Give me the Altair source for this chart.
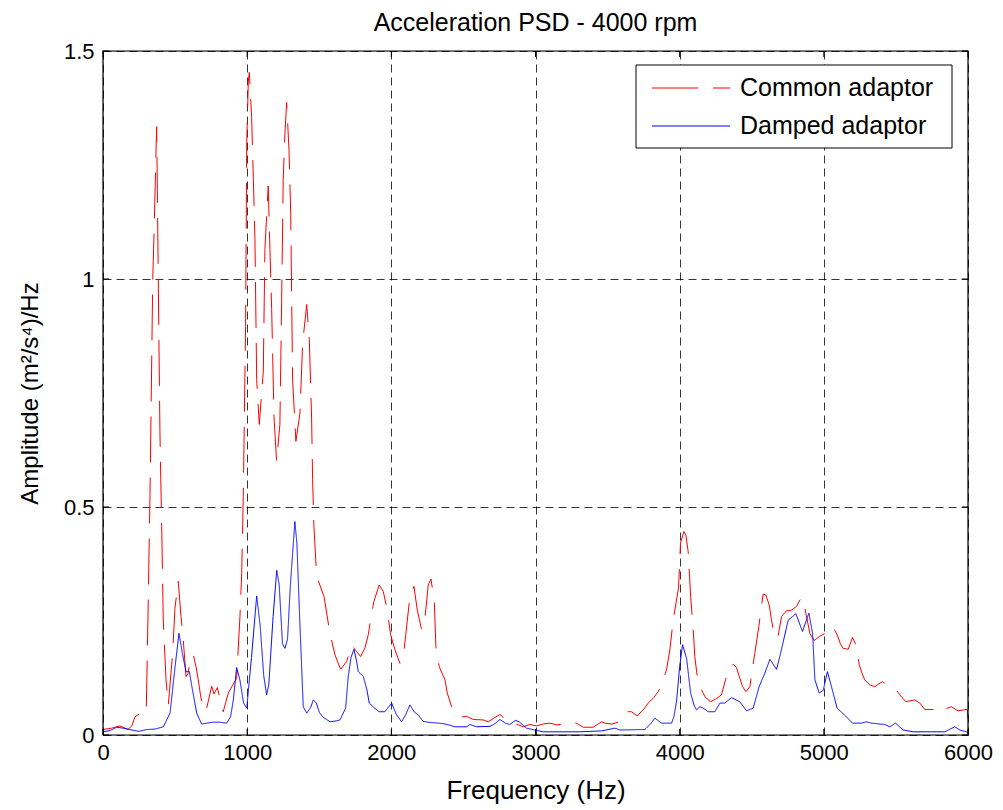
import altair as alt
import pandas as pd

# ---- data ----
common_freq = [0, 60, 118, 173, 200, 222, 260, 285, 300, 314, 326, 345, 354, 372, 377, 384, 395, 407,
               418, 437, 453, 483, 499, 522, 541, 553, 576, 590, 608, 626, 645, 661, 677, 700, 720,
               754, 770, 793, 815, 834, 850, 869, 900, 927, 950, 962, 973, 989, 997, 1008, 1015,
               1031, 1043, 1054, 1066, 1084, 1112, 1123, 1146, 1158, 1170, 1186, 1204, 1227, 1239,
               1250, 1262, 1274, 1290, 1302, 1315, 1338, 1366, 1385, 1413, 1431, 1447, 1454, 1463,
               1482, 1533, 1574, 1609, 1648, 1690, 1725, 1759, 1787, 1817, 1840, 1856, 1879, 1916,
               1944, 1972, 1995, 2025, 2060, 2083, 2101, 2129, 2157, 2180, 2210, 2233, 2256, 2275,
               2298, 2309, 2332, 2372, 2388, 2418, 2445, 2476, 2522, 2568, 2637, 2672, 2707, 2753,
               2790, 2822, 2868, 2915, 2961, 3007, 3053, 3099, 3150, 3200, 3250, 3290, 3331, 3400,
               3424, 3458, 3481, 3530, 3585, 3632, 3666, 3705, 3747, 3782, 3820, 3851, 3874, 3909,
               3932, 3955, 3978, 3992, 4006, 4029, 4043, 4059, 4076, 4094, 4105, 4128, 4152, 4175,
               4214, 4256, 4290, 4318, 4348, 4371, 4394, 4436, 4460, 4487, 4521, 4549, 4579, 4598,
               4621, 4635, 4660, 4683, 4707, 4740, 4776, 4811, 4834, 4849, 4868, 4903, 4933, 4968,
               5007, 5035, 5060, 5092, 5115, 5134, 5169, 5199, 5227, 5245, 5265, 5284, 5319, 5354,
               5380, 5407, 5450, 5499, 5535, 5569, 5631, 5666, 5700, 5770, 5816, 5850, 5885, 5931,
               5970, 5995, 6000]
common_amp = [0.012, 0.015, 0.020, 0.012, 0.020, 0.040, 0.048, 0.044, 0.050, 0.296, 0.527, 0.999,
              1.100, 1.334, 1.196, 0.980, 0.663, 0.457, 0.252, 0.121, 0.066, 0.179, 0.278, 0.337,
              0.260, 0.224, 0.128, 0.135, 0.171, 0.176, 0.150, 0.121, 0.086, 0.051, 0.060, 0.107,
              0.090, 0.104, 0.075, 0.051, 0.070, 0.092, 0.110, 0.124, 0.260, 0.355, 0.523, 0.896,
              1.299, 1.434, 1.453, 1.354, 1.218, 1.087, 0.779, 0.681, 0.798, 1.065, 1.204, 1.065,
              0.933, 0.699, 0.600, 0.681, 0.948, 1.218, 1.321, 1.387, 1.284, 1.145, 0.779, 0.644,
              0.706, 0.860, 0.944, 0.867, 0.695, 0.560, 0.457, 0.348, 0.304, 0.223, 0.176, 0.144,
              0.161, 0.197, 0.183, 0.172, 0.191, 0.220, 0.252, 0.293, 0.329, 0.315, 0.274, 0.220,
              0.187, 0.157, 0.172, 0.223, 0.304, 0.326, 0.274, 0.231, 0.256, 0.329, 0.342, 0.293,
              0.194, 0.150, 0.121, 0.092, 0.062, 0.048, 0.039, 0.041, 0.034, 0.033, 0.029, 0.036,
              0.045, 0.035, 0.027, 0.024, 0.018, 0.023, 0.020, 0.024, 0.026, 0.022, 0.025, 0.029,
              0.025, 0.017, 0.017, 0.022, 0.029, 0.026, 0.024, 0.029, 0.051, 0.051, 0.042, 0.055,
              0.070, 0.082, 0.095, 0.110, 0.143, 0.187, 0.252, 0.296, 0.322, 0.421, 0.446, 0.439,
              0.402, 0.304, 0.231, 0.172, 0.113, 0.099, 0.084, 0.073, 0.080, 0.088, 0.121, 0.150,
              0.155, 0.148, 0.106, 0.095, 0.106, 0.179, 0.238, 0.309, 0.307, 0.285, 0.256, 0.212,
              0.218, 0.260, 0.272, 0.274, 0.282, 0.296, 0.302, 0.279, 0.223, 0.207, 0.216, 0.223,
              0.232, 0.239, 0.220, 0.200, 0.190, 0.188, 0.214, 0.194, 0.155, 0.135, 0.121, 0.110,
              0.106, 0.112, 0.117, 0.106, 0.100, 0.085, 0.073, 0.077, 0.070, 0.056, 0.056, 0.049,
              0.058, 0.062, 0.053, 0.055, 0.056, 0.035]

damped_freq = [0, 50, 95, 140, 185, 250, 303, 360, 418, 465, 500, 527, 550, 576, 599, 620, 650, 684,
               720, 763, 810, 858, 885, 904, 927, 950, 975, 997, 1030, 1066, 1090, 1115, 1135, 1150,
               1180, 1205, 1222, 1245, 1262, 1280, 1300, 1331, 1345, 1365, 1389, 1413, 1440, 1459,
               1480, 1500, 1523, 1574, 1620, 1644, 1683, 1701, 1720, 1741, 1760, 1771, 1806, 1830,
               1847, 1880, 1916, 1955, 2002, 2035, 2071, 2100, 2129, 2160, 2187, 2220, 2256, 2360,
               2400, 2441, 2522, 2545, 2592, 2684, 2720, 2753, 2790, 2822, 2860, 2887, 2938, 3053,
               3308, 3458, 3551, 3585, 3759, 3800, 3828, 3874, 3944, 3960, 3978, 4000, 4020, 4048,
               4076, 4100, 4117, 4140, 4163, 4198, 4244, 4279, 4313, 4360, 4417, 4464, 4510, 4551,
               4590, 4626, 4672, 4700, 4753, 4806, 4852, 4896, 4922, 4938, 4968, 4996, 5025, 5053,
               5092, 5150, 5199, 5261, 5296, 5330, 5423, 5458, 5497, 5550, 5619, 5839, 5908, 5943,
               6000]
damped_amp = [0.007, 0.010, 0.017, 0.015, 0.012, 0.008, 0.012, 0.013, 0.018, 0.048, 0.150, 0.223,
              0.180, 0.139, 0.139, 0.100, 0.048, 0.024, 0.026, 0.028, 0.028, 0.026, 0.040, 0.077,
              0.148, 0.120, 0.070, 0.059, 0.170, 0.305, 0.240, 0.130, 0.088, 0.110, 0.260, 0.361,
              0.330, 0.200, 0.190, 0.210, 0.330, 0.468, 0.420, 0.250, 0.062, 0.048, 0.060, 0.077,
              0.070, 0.050, 0.040, 0.029, 0.031, 0.033, 0.059, 0.128, 0.170, 0.188, 0.160, 0.139,
              0.128, 0.100, 0.070, 0.060, 0.051, 0.051, 0.070, 0.045, 0.029, 0.045, 0.066, 0.050,
              0.044, 0.030, 0.028, 0.025, 0.022, 0.018, 0.018, 0.023, 0.018, 0.019, 0.025, 0.034,
              0.026, 0.023, 0.032, 0.029, 0.015, 0.007, 0.007, 0.009, 0.015, 0.011, 0.012, 0.025,
              0.037, 0.026, 0.026, 0.040, 0.073, 0.150, 0.198, 0.168, 0.092, 0.065, 0.055, 0.062,
              0.059, 0.051, 0.051, 0.070, 0.070, 0.082, 0.073, 0.053, 0.059, 0.106, 0.135, 0.166,
              0.144, 0.179, 0.252, 0.266, 0.227, 0.267, 0.223, 0.121, 0.092, 0.098, 0.139, 0.106,
              0.059, 0.042, 0.026, 0.026, 0.029, 0.026, 0.023, 0.018, 0.026, 0.011, 0.007, 0.007,
              0.018, 0.011, 0.006]

series_names = ["Common adaptor", "Damped adaptor"]
series_colors = ["#ff0000", "#0000ff"]
series_dashes = [[46, 15], [1, 0]]
x_ticks = [0, 1000, 2000, 3000, 4000, 5000, 6000]
y_ticks = [0, 0.5, 1, 1.5]

FONT = "Liberation Sans"
W, H = 865, 684

df = pd.concat([
    pd.DataFrame({"freq": common_freq, "amp": common_amp, "series": series_names[0]}),
    pd.DataFrame({"freq": damped_freq, "amp": damped_amp, "series": series_names[1]}),
], ignore_index=True)
df["order"] = range(len(df))

xscale = alt.Scale(domain=[0, 6000], nice=False, zero=False)
yscale = alt.Scale(domain=[0, 1.5], nice=False, zero=False)

label_expr = "datum.value == 0 ? '0' : datum.value == 0.5 ? '0.5' : datum.value == 1 ? '1' : '1.5'"

lines = alt.Chart(df).mark_line(strokeWidth=1, clip=True).encode(
    x=alt.X("freq:Q", scale=xscale,
            axis=alt.Axis(values=x_ticks, title="Frequency (Hz)", format="d",
                          grid=True, gridDash=[8, 5], gridColor="#000000", gridOpacity=0.8,
                          ticks=False, domain=False, labelPadding=7, labelFontSize=22,
                          labelFlush=False, labelOverlap=False,
                          labelFont=FONT, labelColor="#000", titleFont=FONT, titleFontSize=26,
                          titleFontWeight="normal", titleColor="#000",
                          titleX=W / 2, titleY=55, titleBaseline="middle")),
    y=alt.Y("amp:Q", scale=yscale,
            axis=alt.Axis(values=y_ticks, title="Amplitude (m²/s⁴)/Hz", labelExpr=label_expr,
                          grid=True, gridDash=[8, 5], gridColor="#000000", gridOpacity=0.8,
                          ticks=False, domain=False, labelPadding=9, labelFontSize=22,
                          labelFlush=False, labelOverlap=False,
                          labelFont=FONT, labelColor="#000", titleFont=FONT, titleFontSize=24,
                          titleFontWeight="normal", titleColor="#000",
                          titleX=-73, titleY=H / 2, titleBaseline="middle", titleAngle=270)),
    color=alt.Color("series:N", scale=alt.Scale(domain=series_names, range=series_colors),
                    legend=None),
    strokeDash=alt.StrokeDash("series:N",
                              scale=alt.Scale(domain=series_names, range=series_dashes),
                              legend=None),
    order="order:Q",
)

tick_x = pd.DataFrame({"v": x_ticks})
tick_y = pd.DataFrame({"v": y_ticks})
one = tick_x.head(1)
bottom_ticks = alt.Chart(tick_x).mark_rule(color="black", strokeWidth=1).encode(
    x=alt.X("v:Q", scale=xscale), y=alt.value(H), y2=alt.value(H - 6))
top_ticks = alt.Chart(tick_x).mark_rule(color="black", strokeWidth=1).encode(
    x=alt.X("v:Q", scale=xscale), y=alt.value(0), y2=alt.value(6))
left_ticks = alt.Chart(tick_y).mark_rule(color="black", strokeWidth=1).encode(
    y=alt.Y("v:Q", scale=yscale), x=alt.value(0), x2=alt.value(6))
right_ticks = alt.Chart(tick_y).mark_rule(color="black", strokeWidth=1).encode(
    y=alt.Y("v:Q", scale=yscale), x=alt.value(W), x2=alt.value(W - 6))
frame = alt.Chart(one).mark_rect(fill=None, stroke="black", strokeWidth=1.2).encode(
    x=alt.value(0), x2=alt.value(W), y=alt.value(0), y2=alt.value(H))

# legend box (drawn as in the reference: white box with black border, inside the plot)
LX0, LX1, LY0, LY1 = 533, 849, 14, 97
row_y = [37, 75]
legend_box = alt.Chart(one).mark_rect(fill="white", stroke="black", strokeWidth=1).encode(
    x=alt.value(LX0), x2=alt.value(LX1), y=alt.value(LY0), y2=alt.value(LY1))
legend_layers = [legend_box]
for name, col, dash, ry in zip(series_names, series_colors, series_dashes, row_y):
    legend_layers.append(
        alt.Chart(one).mark_rule(color=col, strokeWidth=1, strokeDash=dash).encode(
            x=alt.value(LX0 + 16), x2=alt.value(LX0 + 94), y=alt.value(ry)))
    legend_layers.append(
        alt.Chart(one).mark_text(font=FONT, fontSize=25, color="#000", align="left",
                                 baseline="middle").encode(
            x=alt.value(LX0 + 104), y=alt.value(ry), text=alt.value(name)))

chart = alt.layer(lines, bottom_ticks, top_ticks, left_ticks, right_ticks, frame,
                  *legend_layers).properties(
    width=W, height=H,
    title=alt.TitleParams("Acceleration PSD - 4000 rpm", font=FONT, fontSize=25,
                          fontWeight="normal", color="#000", offset=4, anchor="middle"),
    autosize=alt.AutoSizeParams(type="none"),
    padding={"left": 95, "top": 43, "right": 27, "bottom": 76},
).configure_view(stroke=None).configure(background="white")

chart.save("out.html", embed_options={"renderer": "svg", "actions": False})
